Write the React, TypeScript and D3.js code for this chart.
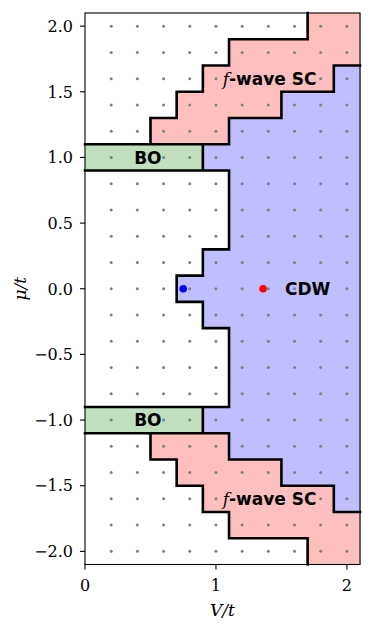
import React from "react";
import * as d3 from "d3";

// phase diagram data: one entry per chemical potential row
const muRows = [2.0, 1.8, 1.6, 1.4, 1.2, 1.0, 0.8, 0.6, 0.4, 0.2, 0.0, -0.2, -0.4, -0.6, -0.8, -1.0, -1.2, -1.4, -1.6, -1.8, -2.0];
const leftPhase = ["N", "N", "N", "N", "N", "BO", "N", "N", "N", "N", "N", "N", "N", "N", "N", "BO", "N", "N", "N", "N", "N"];
const scFrom = [1.7, 1.1, 0.9, 0.7, 0.5, null, null, null, null, null, null, null, null, null, null, null, 0.5, 0.7, 0.9, 1.1, 1.7];
const cdwFrom = [null, null, 1.9, 1.5, 1.1, 0.9, 1.1, 1.1, 1.1, 0.9, 0.7, 0.9, 1.1, 1.1, 1.1, 0.9, 1.1, 1.5, 1.9, null, null];

// V values of the sampled points (gray dots) and the cell edges between them
const dotV = [0.2, 0.4, 0.6, 0.8, 1.0, 1.2, 1.4, 1.6, 1.8, 2.0];
const vEdges = [0, 0.1, 0.3, 0.5, 0.7, 0.9, 1.1, 1.3, 1.5, 1.7, 1.9, 2.1];

// highlighted points
const markerV = [0.75, 1.36];
const markerMu = [0, 0];
const markerColor = ["#0000ff", "#ff0000"];

// phase labels
const labelText = ["BO", "BO", "CDW", "SC", "SC"];
const labelV = [0.48, 0.48, 1.7, 1.41, 1.41];
const labelMu = [1.0, -1.0, 0.0, 1.6, -1.6];

const xTicks = [0, 1, 2];
const yTicks = [-2, -1.5, -1, -0.5, 0, 0.5, 1, 1.5, 2];

const fills: Record<string, string> = {
  N: "#ffffff",
  BO: "#bfdfbf",
  SC: "#ffbfbf",
  CDW: "#bfbfff",
};

const width = 374;
const height = 628;
const margin = { top: 13, right: 14, bottom: 63.5, left: 85 };

const phaseAt = (r: number, v: number) => {
  const c = cdwFrom[r];
  const s = scFrom[r];
  if (c != null && v > c) return "CDW";
  if (s != null && v > s) return "SC";
  return leftPhase[r];
};

const App = () => {
  const x = d3.scaleLinear().domain([0, 2.1]).range([margin.left, width - margin.right]);
  const y = d3.scaleLinear().domain([-2.1, 2.1]).range([height - margin.bottom, margin.top]);

  const rowTop = (r: number) => Math.min(2.1, muRows[r] + 0.1);
  const rowBot = (r: number) => Math.max(-2.1, muRows[r] - 0.1);

  // filled cells
  const cells: { x0: number; x1: number; y0: number; y1: number; p: string }[] = [];
  muRows.forEach((_, r) => {
    for (let k = 0; k < vEdges.length - 1; k++) {
      const p = phaseAt(r, (vEdges[k] + vEdges[k + 1]) / 2);
      cells.push({ x0: vEdges[k], x1: vEdges[k + 1], y0: rowBot(r), y1: rowTop(r), p });
    }
  });

  // phase boundaries
  let path = "";
  muRows.forEach((_, r) => {
    for (let k = 1; k < vEdges.length - 1; k++) {
      const a = phaseAt(r, (vEdges[k - 1] + vEdges[k]) / 2);
      const b = phaseAt(r, (vEdges[k] + vEdges[k + 1]) / 2);
      if (a !== b) path += `M${x(vEdges[k])},${y(rowTop(r))}L${x(vEdges[k])},${y(rowBot(r))}`;
    }
    if (r < muRows.length - 1) {
      for (let k = 0; k < vEdges.length - 1; k++) {
        const mid = (vEdges[k] + vEdges[k + 1]) / 2;
        if (phaseAt(r, mid) !== phaseAt(r + 1, mid)) {
          path += `M${x(vEdges[k])},${y(rowBot(r))}L${x(vEdges[k + 1])},${y(rowBot(r))}`;
        }
      }
    }
  });

  const serif = "'DejaVu Serif', serif";
  const sans = "'DejaVu Sans', sans-serif";

  return (
    <svg width={width} height={height} style={{ position: "absolute", left: 0, top: 0 }}>
      <rect width={width} height={height} fill="#fff" />
      <g shapeRendering="crispEdges">
        {cells.map((c, i) => (
          <rect
            key={i}
            x={x(c.x0)}
            y={y(c.y1)}
            width={x(c.x1) - x(c.x0) + 0.5}
            height={y(c.y0) - y(c.y1) + 0.5}
            fill={fills[c.p]}
          />
        ))}
      </g>
      <path d={path} fill="none" stroke="#000" strokeWidth={2.6} strokeLinecap="square" />
      {markerV.map((v, i) => (
        <circle key={i} cx={x(v)} cy={y(markerMu[i])} r={3.8} fill={markerColor[i]} />
      ))}
      {muRows.map((mu) =>
        dotV.map((v) => <circle key={`${mu}-${v}`} cx={x(v)} cy={y(mu)} r={1.5} fill="#808080" />)
      )}
      {labelText.map((t, i) => (
        <text
          key={i}
          x={x(labelV[i])}
          y={y(labelMu[i])}
          dy="0.36em"
          textAnchor="middle"
          fontFamily={sans}
          fontWeight="bold"
          fontSize={17}
          fill="#000"
        >
          {t === "SC" ? (
            <>
              <tspan fontFamily={serif} fontStyle="italic" fontWeight="normal">f</tspan>
              <tspan>-wave SC</tspan>
            </>
          ) : (
            t
          )}
        </text>
      ))}
      {/* frame */}
      <rect
        x={x(0)}
        y={y(2.1)}
        width={x(2.1) - x(0)}
        height={y(-2.1) - y(2.1)}
        fill="none"
        stroke="#000"
        strokeWidth={1.1}
      />
      {/* x axis */}
      {xTicks.map((t) => (
        <g key={t}>
          <line x1={x(t)} x2={x(t)} y1={y(-2.1)} y2={y(-2.1) + 5} stroke="#000" strokeWidth={1.1} />
          <text x={x(t)} y={591} textAnchor="middle" fontFamily={serif} fontSize={16}>
            {t}
          </text>
        </g>
      ))}
      <text x={x(1.05)} y={616} textAnchor="middle" fontFamily={serif} fontStyle="italic" fontSize={17}>
        V/t
      </text>
      {/* y axis */}
      {yTicks.map((t) => (
        <g key={t}>
          <line x1={x(0) - 5} x2={x(0)} y1={y(t)} y2={y(t)} stroke="#000" strokeWidth={1.1} />
          <text x={73} y={y(t)} dy="0.36em" textAnchor="end" fontFamily={serif} fontSize={16}>
            {d3.format(".1f")(t).replace("-", "\u2212")}
          </text>
        </g>
      ))}
      <text
        transform={`translate(26,${y(0)}) rotate(-90)`}
        textAnchor="middle"
        fontFamily={serif}
        fontStyle="italic"
        fontSize={17}
      >
        μ/t
      </text>
    </svg>
  );
};

export default App;
